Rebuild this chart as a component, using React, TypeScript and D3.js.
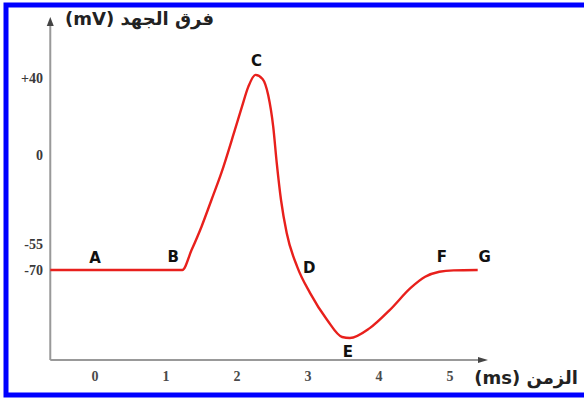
import { useMemo } from 'react';
import * as d3 from 'd3';

// time (ms) and membrane potential (mV)
const times = [-0.63, 1.23, 1.36, 1.5, 1.64, 1.78, 1.97, 2.07, 2.16, 2.26, 2.36, 2.44, 2.51, 2.56, 2.62, 2.7, 2.85, 3.03, 3.27, 3.48, 3.59, 3.87, 4.15, 4.45, 4.65, 4.85, 5.05, 5.39];
const voltages = [-70, -70, -58.5, -44.3, -27.8, -11.1, 13, 25.1, 35.5, 41.6, 39.5, 31, 14.7, -5, -27.8, -48.2, -68.3, -76.8, -84.7, -89.7, -90, -87.1, -81.8, -75.2, -72, -70.5, -70.1, -70];

const xTicks = [0, 1, 2, 3, 4, 5];
const yTicks = [40, 0, -55, -70];
const yTickLabels = ['+40', '0', '-55', '-70'];

const pointLabels = ['A', 'B', 'C', 'D', 'E', 'F', 'G'];
const pointTimes = [0, 1.23, 2.26, 2.85, 3.59, 4.9, 5.39];
const pointVoltages = [-70, -70, 41.6, -68.3, -90, -70, -70];

const W = 584;
const H = 398;

export default function App() {
  const x = useMemo(() => d3.scaleLinear().domain([0, 5]).range([95, 450]), []);
  // schematic, non-linear voltage axis
  const y = useMemo(
    () => d3.scaleLinear().domain([-96, -90, -70, -55, 0, 40]).range([360, 338, 270, 244, 155, 78]),
    []
  );

  const path = useMemo(() => {
    const line = d3
      .line<number>()
      .x((_, i) => x(times[i]))
      .y((v) => y(v))
      .curve(d3.curveMonotoneX);
    return line(voltages) || '';
  }, [x, y]);

  const x0 = x(-0.63);
  const yBase = y(-96);
  const labelOffsets: [number, number][] = [
    [0, -7], [-9, -8], [1, -9], [12, 6], [-2, 19], [-1, -8], [7, -8]
  ];

  return (
    <svg width={W} height={H} style={{ position: 'absolute', left: 0, top: 0, background: '#fff' }}>
      {/* blue frame: top, left, bottom (the right edge is cut off) */}
      <path d={`M${W},5 L6,5 L6,395 L${W},395`} fill="none" stroke="#0000ff" strokeWidth={5} />

      {/* axes */}
      <line x1={x0} y1={yBase} x2={x0} y2={24} stroke="#999" strokeWidth={2} />
      <path d={`M${x0 - 3.5},26 L${x0},17 L${x0 + 3.5},26 Z`} fill="#444" />
      <line x1={x0} y1={yBase} x2={480} y2={yBase} stroke="#999" strokeWidth={2} />
      <path d={`M478,${yBase - 3} L488,${yBase} L478,${yBase + 3} Z`} fill="#444" />

      {yTicks.map((t, i) => (
        <text
          key={t}
          x={43}
          y={y(t)}
          dy="0.35em"
          textAnchor="end"
          fontFamily="Liberation Serif, serif"
          fontWeight="bold"
          fontSize={14}
          fill="#3a3a3a"
        >
          {yTickLabels[i]}
        </text>
      ))}
      {xTicks.map((t) => (
        <text
          key={t}
          x={x(t)}
          y={376}
          dy="0.35em"
          textAnchor="middle"
          fontFamily="Liberation Serif, serif"
          fontWeight="bold"
          fontSize={14}
          fill="#4a4a4a"
        >
          {t}
        </text>
      ))}

      <path d={path} fill="none" stroke="#e8201c" strokeWidth={2.4} strokeLinejoin="round" />

      {pointLabels.map((l, i) => (
        <text
          key={l}
          x={x(pointTimes[i]) + labelOffsets[i][0]}
          y={y(pointVoltages[i]) + labelOffsets[i][1]}
          textAnchor="middle"
          fontFamily="DejaVu Sans, sans-serif"
          fontWeight="bold"
          fontSize={15}
          fill="#111"
        >
          {l}
        </text>
      ))}

      <text
        x={214}
        y={25}
        direction="rtl"
        textAnchor="start"
        fontFamily="DejaVu Sans, sans-serif"
        fontWeight="bold"
        fontSize={18}
        fill="#222"
      >
        فرق الجهد (mV)
      </text>
      <text
        x={578}
        y={384}
        direction="rtl"
        textAnchor="start"
        fontFamily="DejaVu Sans, sans-serif"
        fontWeight="bold"
        fontSize={18}
        fill="#222"
      >
        الزمن (ms)
      </text>
    </svg>
  );
}
